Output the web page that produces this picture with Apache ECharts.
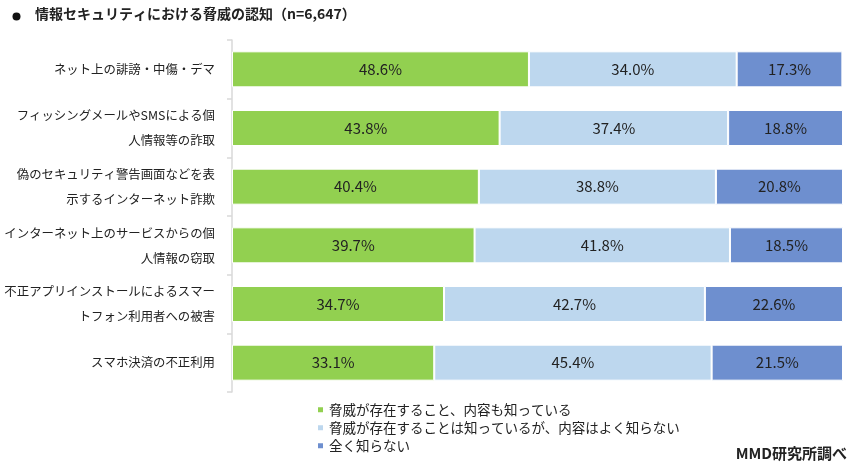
<!DOCTYPE html>
<html>
<head>
<meta charset="utf-8">
<script src="https://cdn.jsdelivr.net/npm/echarts@6/dist/echarts.min.js"></script>
<style>
html,body{margin:0;padding:0;background:#fff;}
#c{width:857px;height:473px;}
</style>
</head>
<body>
<div id="c"></div>
<script>
const categories = [
  'ネット上の誹謗・中傷・デマ',
  'フィッシングメールやSMSによる個\n人情報等の詐取',
  '偽のセキュリティ警告画面などを表\n示するインターネット詐欺',
  'インターネット上のサービスからの個\n人情報の窃取',
  '不正アプリインストールによるスマー\nトフォン利用者への被害',
  'スマホ決済の不正利用'
];
const seriesNames = [
  '脅威が存在すること、内容も知っている',
  '脅威が存在することは知っているが、内容はよく知らない',
  '全く知らない'
];
const knowContent = [48.6, 43.8, 40.4, 39.7, 34.7, 33.1];
const knowExistOnly = [34.0, 37.4, 38.8, 41.8, 42.7, 45.4];
const notKnow = [17.3, 18.8, 20.8, 18.5, 22.6, 21.5];
const titleText = '情報セキュリティにおける脅威の認知（n=6,647）';
const sourceText = 'MMD研究所調べ';

const colors = ['#92D050', '#BDD7EE', '#6E8FCF'];
const FONT = '"Noto Sans CJK JP", "Noto Sans", sans-serif';

const chart = echarts.init(document.getElementById('c'), null, {renderer: 'canvas'});
const values = [knowContent, knowExistOnly, notKnow];
const series = values.map((arr, i) => ({
  name: seriesNames[i],
  type: 'bar',
  stack: 'total',
  data: arr,
  barWidth: 36,
  itemStyle: {color: colors[i], borderColor: '#ffffff', borderWidth: 1},
  label: {
    show: true,
    position: 'inside',
    formatter: p => p.value.toFixed(1) + '%',
    color: '#222222',
    fontSize: 15,
    fontFamily: FONT
  },
  emphasis: {disabled: true}
}));

chart.setOption({
  animation: false,
  backgroundColor: '#ffffff',
  textStyle: {fontFamily: FONT},
  grid: {left: 232, right: 14, top: 40, bottom: 81, containLabel: false, outerBoundsMode: 'none'},
  xAxis: {
    type: 'value', min: 0, max: 100, show: false
  },
  yAxis: {
    type: 'category',
    inverse: true,
    data: categories,
    axisLine: {show: true, lineStyle: {color: '#D9D9D9', width: 1.5}},
    axisTick: {show: true, length: 5, lineStyle: {color: '#D9D9D9', width: 1.5}},
    axisLabel: {
      margin: 17,
      fontSize: 12.4,
      lineHeight: 25,
      color: '#222222',
      fontFamily: FONT,
      align: 'right'
    }
  },
  legend: {
    orient: 'vertical',
    left: 316,
    top: 403,
    padding: 0,
    itemWidth: 7,
    itemHeight: 7,
    itemGap: 4.5,
    icon: 'rect',
    textStyle: {fontSize: 13.5, color: '#222222', fontFamily: FONT},
    data: seriesNames
  },
  graphic: [
    {type: 'circle', shape: {cx: 16.5, cy: 16.5, r: 4}, style: {fill: '#111'}},
    {type: 'text', left: 35, top: 7, style: {text: titleText, font: 'bold 14px ' + FONT, fill: '#222'}},
    {type: 'text', right: 10, top: 446, style: {text: sourceText, font: 'bold 15px ' + FONT, fill: '#222'}}
  ],
  series: series
});
</script>
</body>
</html>
